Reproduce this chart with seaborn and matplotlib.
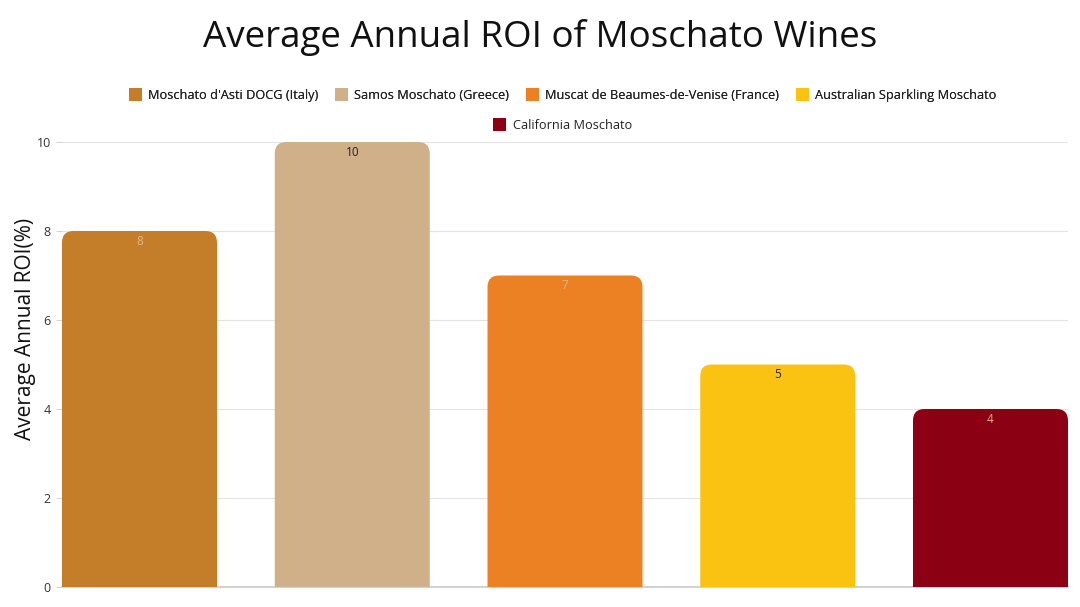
import matplotlib.pyplot as plt
import seaborn as sns
import pandas as pd
from matplotlib.patches import FancyBboxPatch, Patch

wines = ["Moschato d'Asti DOCG (Italy)", "Samos Moschato (Greece)",
         "Muscat de Beaumes-de-Venise (France)", "Australian Sparkling Moschato",
         "California Moschato"]
roi = [8, 10, 7, 5, 4]
colors = ["#C47E2A", "#D0B089", "#EC8124", "#FAC312", "#8B0012"]
label_colors = ["#DDB88C", "#222222", "#DDB88C", "#222222", "#DDB88C"]

df = pd.DataFrame({"wine": wines, "roi": roi})

sns.set_theme(style="white")
plt.rcParams['font.family'] = ['Open Sans', 'DejaVu Sans']

fig = plt.figure(figsize=(10.8, 6.07), dpi=100)
ax = fig.add_axes([62 / 1080, 20 / 607, 1006 / 1080, 445 / 607])

w = 155 / 212.75
sns.barplot(data=df, x="wine", y="roi", hue="wine", palette=colors,
            width=w, dodge=False, legend=False, ax=ax, zorder=3)

# swap plain bars for bars with rounded tops
aspect = (445 / 10) ** -1 * 212.75
for p, c in zip(list(ax.patches), colors):
    x0, h, bw = p.get_x(), p.get_height(), p.get_width()
    p.remove()
    fb = FancyBboxPatch((x0, -1), bw, h + 1,
                        boxstyle="round,pad=0,rounding_size=0.055",
                        mutation_aspect=aspect, fc=c, ec="none", zorder=3)
    ax.add_patch(fb)

for i, v in enumerate(roi):
    ax.text(i, v - 0.08, str(v), ha="center", va="top", fontsize=8.5,
            color=label_colors[i], zorder=4)

ax.set_xlim(-w / 2, 4 + w / 2)
ax.set_ylim(0, 10)
ax.set_yticks([0, 2, 4, 6, 8, 10])
ax.yaxis.grid(True, color="#E3E3E3", lw=0.8, zorder=0)
ax.set_xticks([])
ax.set_xlabel("")
ax.set_ylabel("Average Annual ROI(%)", fontsize=15, color="#111111")
ax.yaxis.set_label_coords(-26 / 1006, 0.58)
ax.tick_params(axis="y", labelsize=9, colors="#333333", length=4, width=0.6,
               pad=4, left=True)
ax.tick_params(axis="y", color="#CCCCCC")
for s in ["top", "right", "left"]:
    ax.spines[s].set_visible(False)
ax.spines["bottom"].set_color("#CCCCCC")

fig.text(0.5, 1 - 38 / 607, "Average Annual ROI of Moschato Wines",
         ha="center", va="center", fontsize=26.5, color="#111111")

handles = [Patch(fc=c, ec="none") for c in colors]
leg1 = fig.legend(handles[:4], wines[:4], loc="center", ncol=4,
                  bbox_to_anchor=(0.521, 1 - 95 / 607), frameon=False,
                  fontsize=9.2, handlelength=1.0, handleheight=1.1,
                  columnspacing=1.3, handletextpad=0.5, labelcolor="#222222")
fig.add_artist(leg1)
fig.legend(handles[4:], wines[4:], loc="center",
           bbox_to_anchor=(0.521, 1 - 125 / 607), frameon=False,
           fontsize=9.2, handlelength=1.0, handleheight=1.1, handletextpad=0.5,
           labelcolor="#222222")

fig.savefig("out.png", dpi=100)
